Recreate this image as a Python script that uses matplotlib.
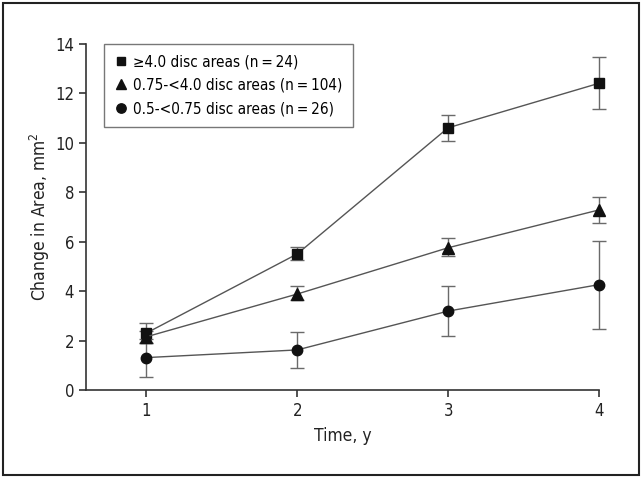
import matplotlib
matplotlib.use("Agg")
from matplotlib import pyplot as plt
from matplotlib.patches import Rectangle
from matplotlib.lines import Line2D

plt.rcParams['font.family'] = ['DejaVu Sans']
plt.rcParams['font.stretch'] = 'condensed'

years = [1, 2, 3, 4]

# >=4.0 disc areas
large_mean = [2.3, 5.5, 10.6, 12.4]
large_lo = [1.88, 5.25, 10.08, 11.37]
large_hi = [2.72, 5.8, 11.13, 13.45]

# 0.75-<4.0 disc areas
mid_mean = [2.15, 3.88, 5.75, 7.28]
mid_lo = [1.9, 3.63, 5.42, 6.74]
mid_hi = [2.4, 4.2, 6.13, 7.81]

# 0.5-<0.75 disc areas
small_mean = [1.31, 1.62, 3.19, 4.26]
small_lo = [0.54, 0.88, 2.18, 2.47]
small_hi = [2.08, 2.36, 4.22, 6.04]

labels = ['\u22654.0 disc areas (n\u2009=\u200924)',
          '0.75-<4.0 disc areas (n\u2009=\u2009104)',
          '0.5-<0.75 disc areas (n\u2009=\u200926)']
markers = ['s', '^', 'o']
msizes = [6.5, 8, 7.5]

fig = plt.figure(figsize=(6.43, 4.78), dpi=100)
ax = fig.add_axes([0.1337, 0.1841, 0.7979, 0.7245])

series = [(large_mean, large_lo, large_hi),
          (mid_mean, mid_lo, mid_hi),
          (small_mean, small_lo, small_hi)]
for (m, lo, hi), lab, mk, ms in zip(series, labels, markers, msizes):
    yerr = [[a - b for a, b in zip(m, lo)], [b - a for a, b in zip(m, hi)]]
    eb = ax.errorbar(years, m, yerr=yerr, fmt='none', ecolor='#6a6a6a',
                     elinewidth=1.0, capsize=5, capthick=1.0, zorder=2)
    for art in eb.lines[1] + eb.lines[2]:
        art.set_clip_on(False)
    ax.plot(years, m, color='#555555', lw=1.0, marker=mk, ms=ms,
            mfc='#111111', mec='#111111', label=lab, zorder=3, clip_on=False)

ax.set_xlim(0.6, 4.0)
ax.set_ylim(0, 14)
ax.set_xticks(years)
ax.set_yticks(range(0, 15, 2))
ax.spines['top'].set_visible(False)
ax.spines['right'].set_visible(False)
ax.spines['left'].set_color('#333333')
ax.spines['bottom'].set_color('#333333')
ax.spines['left'].set_linewidth(1.2)
ax.spines['bottom'].set_linewidth(1.2)
ax.tick_params(axis='both', direction='out', length=5, width=1.2,
               colors='#333333', labelsize=12, labelcolor='#222222')
ax.set_xlabel('Time, y', fontsize=12.5, color='#222222', labelpad=5)
ax.set_ylabel('Change in Area, mm$^2$', fontsize=12.5, color='#222222', labelpad=2)

leg_handles = [Line2D([0], [0], ls='none', marker=mk, ms=ms * 0.9, mfc='#111111', mec='#111111')
               for mk, ms in zip(markers, msizes)]
leg = ax.legend(leg_handles, labels, loc='upper left', bbox_to_anchor=(0.035, 1.0),
                borderaxespad=0, fontsize=11, frameon=True, fancybox=False,
                handlelength=0.8, handletextpad=0.4, labelspacing=0.55,
                borderpad=0.7)
leg.get_frame().set_edgecolor('#555555')
leg.get_frame().set_linewidth(1.0)

fig.patches.append(Rectangle((3 / 643, 3 / 478), 636 / 643, 472 / 478,
                             transform=fig.transFigure, fill=False,
                             edgecolor='#222222', linewidth=1.5))

fig.savefig('out.png', dpi=100)
